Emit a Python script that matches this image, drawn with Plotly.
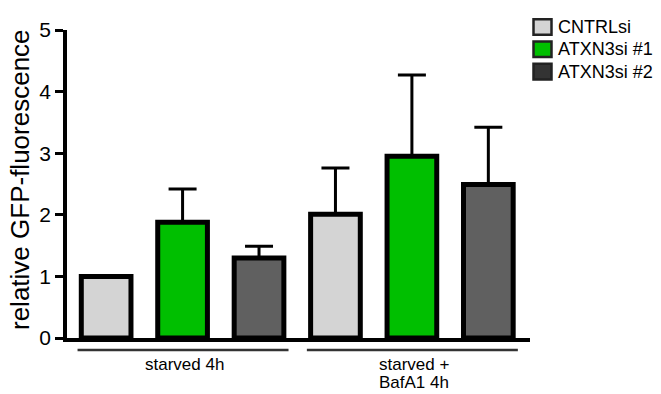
import plotly.graph_objects as go

# Conditions (x categories) and siRNA series
groups = ["starved 4h", "starved +<br>BafA1 4h"]
series_names = ["CNTRLsi", "ATXN3si #1", "ATXN3si #2"]

cntrl_mean = [1.0, 2.01]
atxn1_mean = [1.88, 2.95]
atxn2_mean = [1.30, 2.49]

cntrl_err = [0.0, 0.75]
atxn1_err = [0.54, 1.32]
atxn2_err = [0.19, 0.93]

bar_colors = ["#d4d4d4", "#00bf00", "#606060"]
legend_colors = ["#d4d4d4", "#00bf00", "#333333"]

y_ticks = [0, 1, 2, 3, 4, 5]

# plot-area geometry in pixels
W, H = 661, 394
L, R, T, B = 67, 131, 30, 56
PW, PH = W - L - R, H - T - B


def px(x):
    return (x - L) / PW


def py(y):
    return (H - B - y) / PH


fig = go.Figure()
means = [cntrl_mean, atxn1_mean, atxn2_mean]
errs = [cntrl_err, atxn1_err, atxn2_err]
cat_idx = list(range(len(groups)))
for name, m, e, c in zip(series_names, means, errs, bar_colors):
    fig.add_trace(go.Bar(
        x=cat_idx, y=m, name=name,
        marker=dict(color=c, line=dict(color="black", width=5)),
        error_y=dict(type="data", array=e, arrayminus=[0] * len(e),
                     symmetric=False, color="black", thickness=3, width=14,
                     visible=True),
        showlegend=False,
    ))

fig.update_layout(
    width=W, height=H,
    margin=dict(l=L, r=R, t=T, b=B),
    paper_bgcolor="white", plot_bgcolor="white",
    barmode="group", bargap=0.0, bargroupgap=0.35,
    font=dict(family="Liberation Sans, Arial, sans-serif", color="black"),
)
fig.update_xaxes(
    range=[-0.504, 1.515], showgrid=False, zeroline=False,
    showline=True, linecolor="black", linewidth=3.5,
    showticklabels=False, ticks="",
)
fig.update_yaxes(
    range=[0, 5], tickvals=y_ticks, showgrid=False, zeroline=False,
    showline=True, linecolor="black", linewidth=3.5,
    ticks="outside", ticklen=8, tickwidth=3, tickcolor="black",
    tickfont=dict(size=21, color="black"),
)

# y-axis title
fig.add_annotation(
    text="relative GFP-fluorescence", xref="paper", yref="paper",
    x=px(20), y=py(180), textangle=-90, showarrow=False,
    xanchor="center", yanchor="middle", font=dict(size=26, color="black"),
)

# group brackets and labels under the x axis
for i, g in enumerate(groups):
    fig.add_shape(type="line", xref="x", yref="paper",
                  x0=i - 0.458, x1=i + 0.462, y0=py(350), y1=py(350),
                  line=dict(color="#333333", width=2.5))
    lines = g.split("<br>")
    for j, ln in enumerate(lines):
        fig.add_annotation(
            text=ln, xref="x", yref="paper", x=i + 0.01, y=py(364 + 18.5 * j),
            showarrow=False, xanchor="center", yanchor="middle",
            font=dict(size=17, color="black"),
        )

# legend drawn as boxes + labels
for k, (name, c) in enumerate(zip(series_names, legend_colors)):
    yc = 27 + 22.3 * k
    fig.add_shape(type="rect", xref="paper", yref="paper",
                  x0=px(533.5), x1=px(551.5), y0=py(yc - 7.8), y1=py(yc + 7.8),
                  fillcolor=c, line=dict(color="#222222", width=2.5))
    fig.add_annotation(
        text=name, xref="paper", yref="paper", x=px(556), y=py(yc),
        showarrow=False, xanchor="left", yanchor="middle",
        font=dict(size=18, color="black"),
    )

fig.write_html("out.html")
